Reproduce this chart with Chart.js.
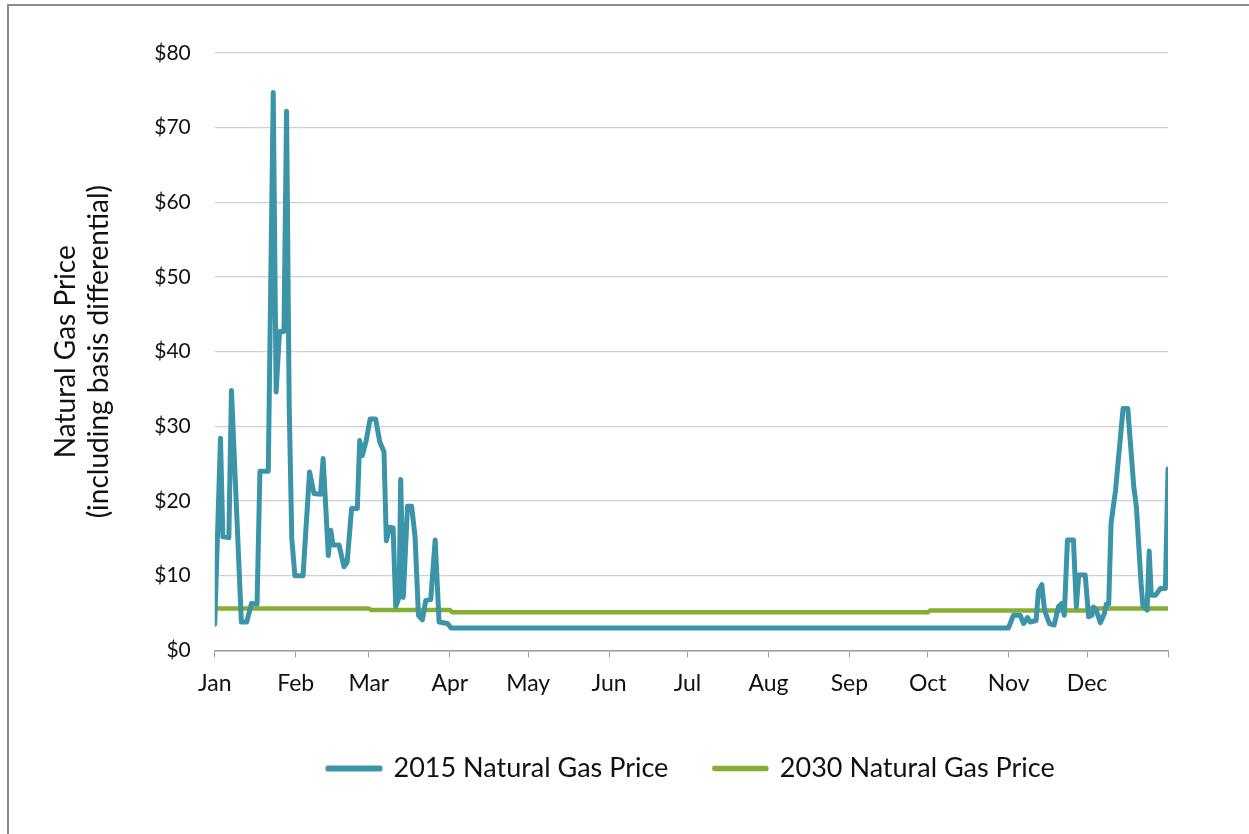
<!DOCTYPE html>
<html>
<head>
<meta charset="utf-8">
<script src="https://cdn.jsdelivr.net/npm/chart.js@4.4.1/dist/chart.umd.min.js"></script>
<style>
	html, body { margin: 0; padding: 0; background: #fff; overflow: hidden; }
	#frame { position: absolute; left: 7px; top: 4px; width: 1300px; height: 900px; border-left: 2px solid #8c8c8c; border-top: 2px solid #8c8c8c; }
	#wrap { position: absolute; left: 0; top: 0; width: 1249px; height: 834px; }
</style>
</head>
<body>
<div id="frame"></div>
<div id="wrap"><canvas id="chart"></canvas></div>
<script>
const monthNames = ['Jan', 'Feb', 'Mar', 'Apr', 'May', 'Jun', 'Jul', 'Aug', 'Sep', 'Oct', 'Nov', 'Dec', ''];
const monthStartDays = [0, 31, 59, 90, 120, 151, 181, 212, 243, 273, 304, 334, 365];

// 2015 price, vertices of the daily line (day of year, $)
const price2015Days = [
	0, 2.2, 3.1, 5.4, 6.4, 10.2, 12.2, 14.1, 16.2, 17.3, 20.5, 22.4, 23.5, 24.8, 26.5, 27.5,
	28.5, 29.5, 30.7, 33.8, 36.3, 38, 40.5, 41.5, 43.5, 44.4, 45.3, 47.6, 49.5, 50.7, 52.4, 54.6,
	55.5, 56.5, 58, 59.5, 61.6, 63.2, 64.8, 65.7, 67, 68.3, 69.3, 70.6, 71.2, 72.2, 73.8, 75.4,
	76.7, 78, 79.5, 80.8, 82.7, 84.4, 85.9, 89.1, 90.5,
	303.9, 305.8, 308.4, 309.7, 311.2, 312.2, 314.5, 315.4, 316.7, 317.7, 319.6, 321.4, 323.1, 324.4,
	325.3, 326.5, 328.8, 329.9, 330.8, 333.3, 334.6, 335.9, 336.5, 337.5, 339.1, 340.6, 341.4, 342.3,
	343.2, 344.9, 347.8, 349.6, 351.9, 352.9, 354.7, 355.4, 357, 357.8, 358.6, 360.2, 362.1, 364, 365
];
const price2015Values = [
	3.5, 28.4, 15.2, 15.1, 34.8, 3.8, 3.8, 6.3, 6.2, 24, 24, 74.7, 34.6, 42.7, 42.7, 72.2,
	33, 15, 10, 10, 23.9, 21, 20.9, 25.7, 12.7, 16.1, 14.1, 14.1, 11.2, 11.8, 19, 19,
	28.1, 26.1, 28.1, 31, 31, 27.9, 26.6, 14.7, 16.5, 16.4, 5.9, 7.1, 22.9, 7.1, 19.3, 19.3,
	15.2, 4.7, 4.1, 6.7, 6.8, 14.8, 3.8, 3.6, 3.0,
	3.0, 4.7, 4.7, 3.6, 4.4, 3.8, 4.0, 8.0, 8.8, 5.4, 3.6, 3.4, 5.9, 6.3,
	4.7, 14.8, 14.8, 5.8, 10.1, 10.1, 4.5, 4.7, 5.8, 5.4, 3.7, 4.9, 6.2, 6.2,
	17, 21.4, 32.4, 32.4, 21.9, 19.2, 8.9, 6.0, 5.4, 13.3, 7.4, 7.4, 8.3, 8.3, 24.3
];

// 2030 price, step levels
const price2030Days = [0, 59, 60, 90, 91, 273, 274, 334, 335, 365];
const price2030Values = [5.6, 5.6, 5.4, 5.4, 5.1, 5.1, 5.35, 5.35, 5.6, 5.6];

const blue = 'rgb(59, 148, 168)';
const green = 'rgb(134, 174, 50)';
const axisGray = '#a0a0a0';

const toPoints = (days, values) => days.map((d, i) => ({ x: d, y: values[i] }));

const data = {
	datasets: [{
		label: '2015 Natural Gas Price',
		data: toPoints(price2015Days, price2015Values),
		borderColor: blue,
		backgroundColor: blue,
		borderWidth: 5,
		pointRadius: 0,
		tension: 0,
		borderJoinStyle: 'round',
		borderCapStyle: 'round'
	}, {
		label: '2030 Natural Gas Price',
		data: toPoints(price2030Days, price2030Values),
		borderColor: green,
		backgroundColor: green,
		borderWidth: 4.5,
		pointRadius: 0,
		tension: 0,
		borderJoinStyle: 'round'
	}]
};

const config = {
	type: 'line',
	data: data,
	options: {
		responsive: true,
		maintainAspectRatio: false,
		animation: false,
		layout: {
			padding: { left: 49, right: 81, top: 53, bottom: 42 }
		},
		scales: {
			x: {
				type: 'linear',
				min: 0,
				max: 365,
				afterBuildTicks(scale) {
					scale.ticks = monthStartDays.map(v => ({ value: v }));
				},
				grid: {
					drawOnChartArea: false,
					drawTicks: true,
					tickLength: 7,
					tickColor: axisGray
				},
				border: { display: true, color: axisGray, width: 1.5 },
				ticks: {
					autoSkip: false,
					maxRotation: 0,
					padding: 12,
					color: '#111',
					font: { family: 'Lato', size: 23 },
					callback: (v) => monthNames[monthStartDays.indexOf(v)]
				}
			},
			y: {
				min: 0,
				max: 80,
				grid: { color: '#cfcfcf', lineWidth: 1.2, drawTicks: false },
				border: { display: false },
				ticks: {
					stepSize: 10,
					padding: 24,
					color: '#111',
					font: { family: 'Lato', size: 21 },
					callback: (v) => '$' + v
				},
				title: {
					display: true,
					text: ['Natural Gas Price', '(including basis differential)'],
					color: '#111',
					font: { family: 'Lato', size: 28 },
					padding: { top: 0, bottom: 14 }
				}
			}
		},
		plugins: {
			legend: {
				position: 'bottom',
				fullSize: false,
				labels: {
					boxWidth: 52,
					boxHeight: 1,
					padding: 46,
					color: '#111',
					font: { family: 'Lato', size: 27 }
				}
			},
			tooltip: { enabled: false }
		}
	}
};

const myChart = new Chart(document.getElementById('chart'), config);
</script>
</body>
</html>
